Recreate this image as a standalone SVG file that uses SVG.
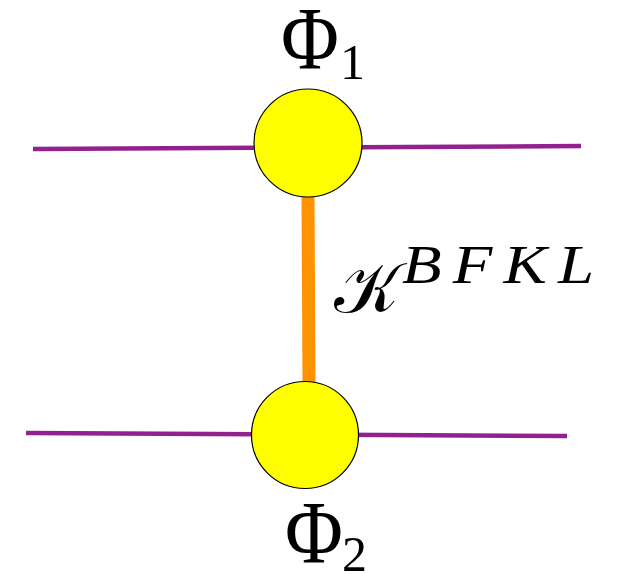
<svg xmlns="http://www.w3.org/2000/svg" width="621" height="574" viewBox="0 0 621 574">
<style>
.prop{stroke:#93208f;stroke-width:4.5;fill:none}
.kern{stroke:#ff9200;stroke-width:13;fill:none}
.blob{fill:#ffff00;stroke:#000;stroke-width:1.2}
.lbl{font-family:"Liberation Serif","DejaVu Serif",serif;fill:#000}
.big{font-size:88px}
.sub{font-size:50px}
</style>
<rect width="621" height="574" fill="#fff"/>
<g id="connectors">
<line class="prop" x1="33" y1="149" x2="581" y2="146"/>
<line class="prop" x1="26" y1="433" x2="567" y2="436"/>
<line class="kern" x1="308" y1="195" x2="309" y2="384"/>
</g>
<g id="phi1">
<circle class="blob" cx="308" cy="143" r="54"/>
<text class="lbl big" transform="translate(281,68) scale(0.9,1)">Φ</text>
<text class="lbl sub" x="340" y="79">1</text>
</g>
<g id="phi2">
<circle class="blob" cx="305" cy="435" r="53.5"/>
<text class="lbl big" transform="translate(285,562) scale(0.9,1)">Φ</text>
<text class="lbl sub" x="342" y="571">2</text>
</g>
<g id="kernel-label">
<text class="lbl" x="334" y="312" font-size="70">𝒦</text>
<text class="lbl" transform="translate(402,283) scale(1.2,1)" font-size="54" font-style="italic" textLength="160" lengthAdjust="spacing">BFKL</text>
</g>
</svg>
